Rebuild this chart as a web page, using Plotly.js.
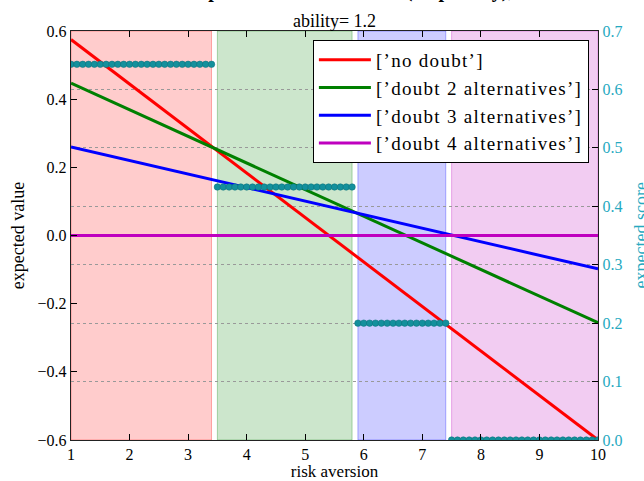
<!DOCTYPE html>
<html>
<head>
<meta charset="utf-8">
<script src="https://cdn.plot.ly/plotly-3.0.1.min.js"></script>
<style>
html,body{margin:0;padding:0;background:#fff;}
#chart{width:644px;height:481px;}
.legendtext{letter-spacing:1.3px;}
</style>
</head>
<body>
<div id="chart"></div>
<script>
// ---- data ----
var lineX = [1, 10];
var noDoubt = [0.575, -0.600];
var doubt2 = [0.447, -0.256];
var doubt3 = [0.260, -0.098];
var doubt4 = [0.000, 0.000];
var seriesNames = ["[’no doubt’]", "[’doubt 2 alternatives’]", "[’doubt 3 alternatives’]", "[’doubt 4 alternatives’]"];
var seriesColors = ["#ff0000", "#008000", "#0000ff", "#bf00bf"];
var shadeColors = ["rgba(255,0,0,0.2)", "rgba(0,128,0,0.2)", "rgba(0,0,255,0.2)", "rgba(191,0,191,0.2)"];
var shadeEdges = ["rgba(255,0,0,0.3)", "rgba(0,128,0,0.3)", "rgba(0,0,255,0.3)", "rgba(191,0,191,0.3)"];

// expected score of the best choice, per risk-aversion value (one group per best choice)
var scoreX1 = [1.0,1.1,1.2,1.3,1.4,1.5,1.6,1.7,1.8,1.9,2.0,2.1,2.2,2.3,2.4,2.5,2.6,2.7,2.8,2.9,3.0,3.1,3.2,3.3,3.4];
var scoreY1 = [0.643,0.643,0.643,0.643,0.643,0.643,0.643,0.643,0.643,0.643,0.643,0.643,0.643,0.643,0.643,0.643,0.643,0.643,0.643,0.643,0.643,0.643,0.643,0.643,0.643];
var scoreX2 = [3.5,3.6,3.7,3.8,3.9,4.0,4.1,4.2,4.3,4.4,4.5,4.6,4.7,4.8,4.9,5.0,5.1,5.2,5.3,5.4,5.5,5.6,5.7,5.8];
var scoreY2 = [0.433,0.433,0.433,0.433,0.433,0.433,0.433,0.433,0.433,0.433,0.433,0.433,0.433,0.433,0.433,0.433,0.433,0.433,0.433,0.433,0.433,0.433,0.433,0.433];
var scoreX3 = [5.9,6.0,6.1,6.2,6.3,6.4,6.5,6.6,6.7,6.8,6.9,7.0,7.1,7.2,7.3,7.4];
var scoreY3 = [0.2,0.2,0.2,0.2,0.2,0.2,0.2,0.2,0.2,0.2,0.2,0.2,0.2,0.2,0.2,0.2];
var scoreX4 = [7.5,7.6,7.7,7.8,7.9,8.0,8.1,8.2,8.3,8.4,8.5,8.6,8.7,8.8,8.9,9.0,9.1,9.2,9.3,9.4,9.5,9.6,9.7,9.8,9.9,10.0];
var scoreY4 = [0,0,0,0,0,0,0,0,0,0,0,0,0,0,0,0,0,0,0,0,0,0,0,0,0,0];

var xTicks = [1,2,3,4,5,6,7,8,9,10];
var yTicks = [-0.6,-0.4,-0.2,0.0,0.2,0.4,0.6];
var y2Ticks = [0.0,0.1,0.2,0.3,0.4,0.5,0.6,0.7];

var FONT = "Liberation Serif";
var TEAL = "#26a9bf";
var DOT = "#13909c";

var lineSeries = [noDoubt, doubt2, doubt3, doubt4];
var traces = [];
for (var i = 0; i < lineSeries.length; i++) {
  traces.push({
    x: lineX, y: lineSeries[i], type: "scatter", mode: "lines",
    name: seriesNames[i], line: {color: seriesColors[i], width: 3},
    xaxis: "x", yaxis: "y"
  });
}
var groupsX = [scoreX1, scoreX2, scoreX3, scoreX4];
var groupsY = [scoreY1, scoreY2, scoreY3, scoreY4];
for (var g = 0; g < groupsX.length; g++) {
  traces.push({
    x: groupsX[g], y: groupsY[g], type: "scatter", mode: "markers",
    showlegend: false, hoverinfo: "skip",
    marker: {color: DOT, size: 6.5, line: {color: "#0b6f79", width: 0.5}},
    xaxis: "x", yaxis: "y2"
  });
}

var shapes = [];
for (var s = 0; s < groupsX.length; s++) {
  shapes.push({
    type: "rect", xref: "x", yref: "paper", layer: "below",
    x0: groupsX[s][0], x1: groupsX[s][groupsX[s].length - 1], y0: 0, y1: 1,
    fillcolor: shadeColors[s], line: {color: shadeEdges[s], width: 1}
  });
}

var layout = {
  width: 644, height: 481,
  margin: {l: 71, r: 46, t: 31, b: 41, pad: 0},
  paper_bgcolor: "#ffffff", plot_bgcolor: "#ffffff",
  font: {family: FONT, size: 16, color: "#000"},
  showlegend: true,
  title: {
    text: "ability= 1.2", font: {family: FONT, size: 18, color: "#000"},
    xref: "paper", x: 0.5, xanchor: "center",
    yref: "paper", y: 1, yanchor: "bottom", pad: {b: 4}
  },
  xaxis: {
    range: [1, 10], tickmode: "array", tickvals: xTicks,
    ticks: "inside", ticklen: 6, tickcolor: "#000", tickwidth: 1,
    showline: true, linecolor: "#222", linewidth: 1.2, mirror: "ticks",
    showgrid: false, zeroline: false,
    tickfont: {family: FONT, size: 16, color: "#000"},
    title: {text: "risk aversion", font: {family: FONT, size: 17, color: "#000"}, standoff: 0},
    automargin: false
  },
  yaxis: {
    range: [-0.6, 0.6], tickmode: "array", tickvals: yTicks, tickformat: ".1f",
    ticks: "inside", ticklen: 6, tickcolor: "#000",
    showline: true, linecolor: "#222", linewidth: 1.2, mirror: false,
    showgrid: false, zeroline: false,
    tickfont: {family: FONT, size: 16, color: "#000"},
    title: {text: "expected value", font: {family: FONT, size: 18, color: "#000"}, standoff: 8},
    automargin: false
  },
  yaxis2: {
    overlaying: "y", side: "right",
    range: [0, 0.7], tickmode: "array", tickvals: y2Ticks, tickformat: ".1f",
    ticks: "inside", ticklen: 6, tickcolor: "#000",
    showline: true, linecolor: "#222", linewidth: 1.2,
    showgrid: true, gridcolor: "#999999", griddash: "dot", gridwidth: 1,
    zeroline: false,
    tickfont: {family: FONT, size: 16, color: TEAL},
    automargin: false
  },
  legend: {
    x: 0.459, y: 0.978, xanchor: "left", yanchor: "top",
    xref: "paper", yref: "paper",
    bgcolor: "#ffffff", bordercolor: "#000", borderwidth: 1,
    font: {family: FONT, size: 19, color: "#000"},
    itemwidth: 52, tracegroupgap: 0
  },
  shapes: shapes,
  annotations: [{
    text: "<b>Expected value and score (no penalty),</b>",
    xref: "paper", yref: "paper", x: 0.2125, y: 1, xanchor: "left", yanchor: "bottom",
    yshift: 27, showarrow: false,
    font: {family: FONT, size: 20, color: "#000"}
  }, {
    text: "expected score",
    xref: "paper", yref: "paper", x: 1, y: 0.5, xanchor: "center", yanchor: "middle",
    xshift: 42, textangle: -90, showarrow: false,
    font: {family: FONT, size: 18, color: TEAL}
  }]
};

Plotly.newPlot("chart", traces, layout, {displayModeBar: false, staticPlot: true});
</script>
</body>
</html>
